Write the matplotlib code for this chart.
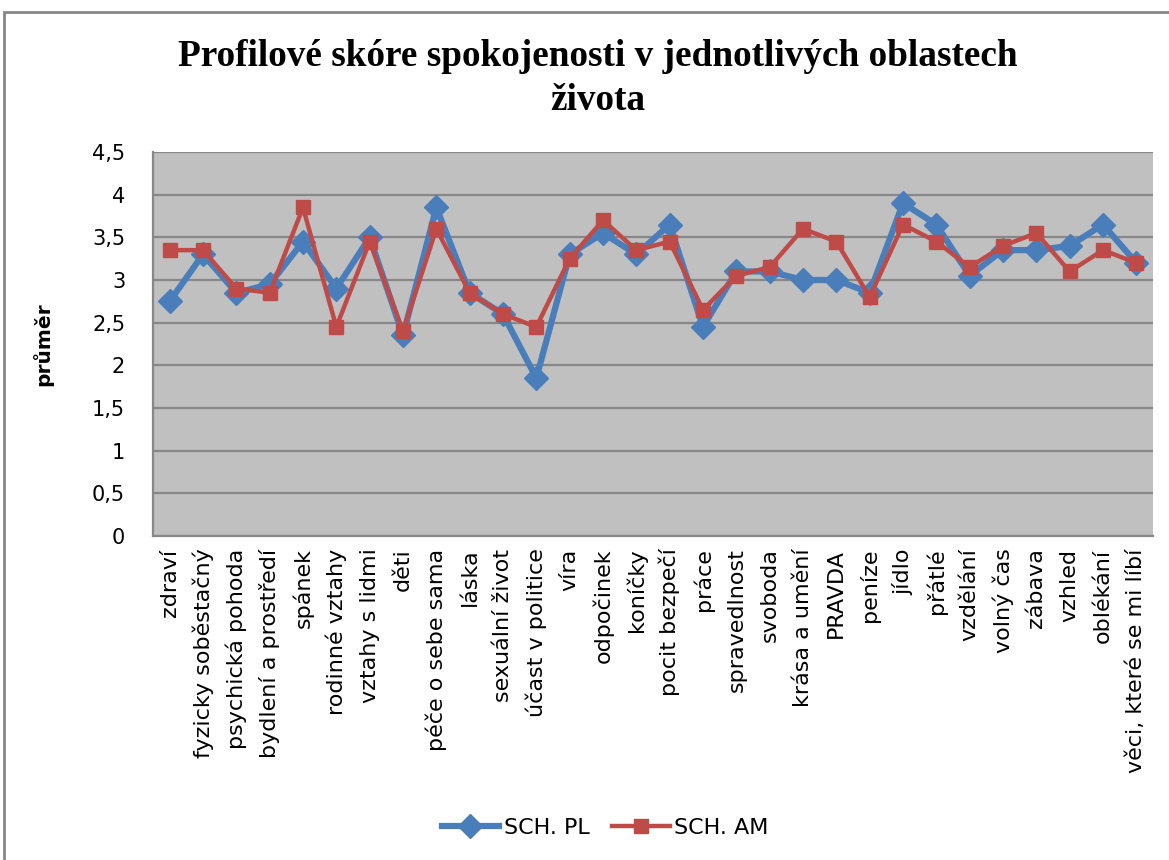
import matplotlib.pyplot as plt
from matplotlib.patches import Rectangle
from matplotlib.lines import Line2D

# Oblasti života a průměrné skóre pro obě skupiny
oblasti = [
    "zdraví", "fyzicky soběstačný", "psychická pohoda", "bydlení a prostředí",
    "spánek", "rodinné vztahy", "vztahy s lidmi", "děti", "péče o sebe sama",
    "láska", "sexuální život", "účast v politice", "víra", "odpočinek",
    "koníčky", "pocit bezpečí", "práce", "spravedlnost", "svoboda",
    "krása a umění", "PRAVDA", "peníze", "jídlo", "přátlé", "vzdělání",
    "volný čas", "zábava", "vzhled", "oblékání", "věci, které se mi líbí",
]
sch_pl = [2.75, 3.3, 2.85, 2.95, 3.45, 2.9, 3.5, 2.35, 3.85, 2.85,
          2.6, 1.85, 3.3, 3.55, 3.3, 3.65, 2.45, 3.1, 3.1, 3.0,
          3.0, 2.85, 3.9, 3.65, 3.05, 3.35, 3.35, 3.4, 3.65, 3.2]
sch_am = [3.35, 3.35, 2.9, 2.85, 3.85, 2.45, 3.45, 2.4, 3.6, 2.85,
          2.6, 2.45, 3.25, 3.7, 3.35, 3.45, 2.65, 3.05, 3.15, 3.6,
          3.45, 2.8, 3.65, 3.45, 3.15, 3.4, 3.55, 3.1, 3.35, 3.2]
y_ticks = [0, 0.5, 1, 1.5, 2, 2.5, 3, 3.5, 4, 4.5]

blue = "#4A7EBB"
red = "#BE4B48"

fig = plt.figure(figsize=(11.69, 8.60), dpi=100)

# outer chart frame
fig.patches.append(Rectangle((4 / 1169, -0.01), 1.02, 1 - 12 / 860 + 0.01,
                             transform=fig.transFigure, fill=False,
                             edgecolor="#878787", linewidth=2))

ax = fig.add_axes([153 / 1169, 1 - 536 / 860, 1000 / 1169, 384 / 860])
ax.set_facecolor("#C0C0C0")

x = list(range(len(oblasti)))
ax.plot(x, sch_pl, color=blue, linewidth=4.5, marker="D", markersize=12,
        markerfacecolor=blue, markeredgecolor=blue, zorder=3)
ax.plot(x, sch_am, color=red, linewidth=3.2, marker="s", markersize=10.5,
        markerfacecolor=red, markeredgecolor=red, zorder=4)

ax.set_xlim(-0.5, len(oblasti) - 0.5)
ax.set_ylim(0, 4.5)
ax.set_yticks(y_ticks)
ax.set_yticklabels([f"{v:g}".replace(".", ",") for v in y_ticks],
                   fontsize=15, family="DejaVu Sans")
ax.yaxis.grid(True, color="#878787", linewidth=1.6)
ax.set_axisbelow(True)
ax.tick_params(axis="y", length=0, pad=20)

ax.set_xticks(x)
ax.set_xticklabels(oblasti, rotation=90, fontsize=16, family="DejaVu Sans")
ax.tick_params(axis="x", length=0, pad=9)

for side in ["top", "right"]:
    ax.spines[side].set_visible(False)
for side in ["left", "bottom"]:
    ax.spines[side].set_color("#878787")
    ax.spines[side].set_linewidth(1.6)

ax.set_ylabel("průměr", fontsize=14.5, fontweight="bold", family="DejaVu Sans",
              labelpad=28)

fig.text(0.511, 1 - 56 / 860, "Profilové skóre spokojenosti v jednotlivých oblastech",
         ha="center", va="center", fontsize=26.8, fontweight="bold",
         family="Liberation Serif")
fig.text(0.511, 1 - 100 / 860, "života", ha="center", va="center",
         fontsize=26.8, fontweight="bold", family="Liberation Serif")

handles = [
    Line2D([], [], color=blue, linewidth=4.5, marker="D", markersize=12),
    Line2D([], [], color=red, linewidth=3.2, marker="s", markersize=10.5),
]
fig.legend(handles, ["SCH. PL", "SCH. AM"], loc="center",
           bbox_to_anchor=(605 / 1169, 1 - 828 / 860), ncol=2, frameon=False,
           prop={"family": "Liberation Sans Narrow", "size": 16},
           handlelength=2.6, columnspacing=1.0, handletextpad=0.2)

fig.savefig("out.png", dpi=100)
